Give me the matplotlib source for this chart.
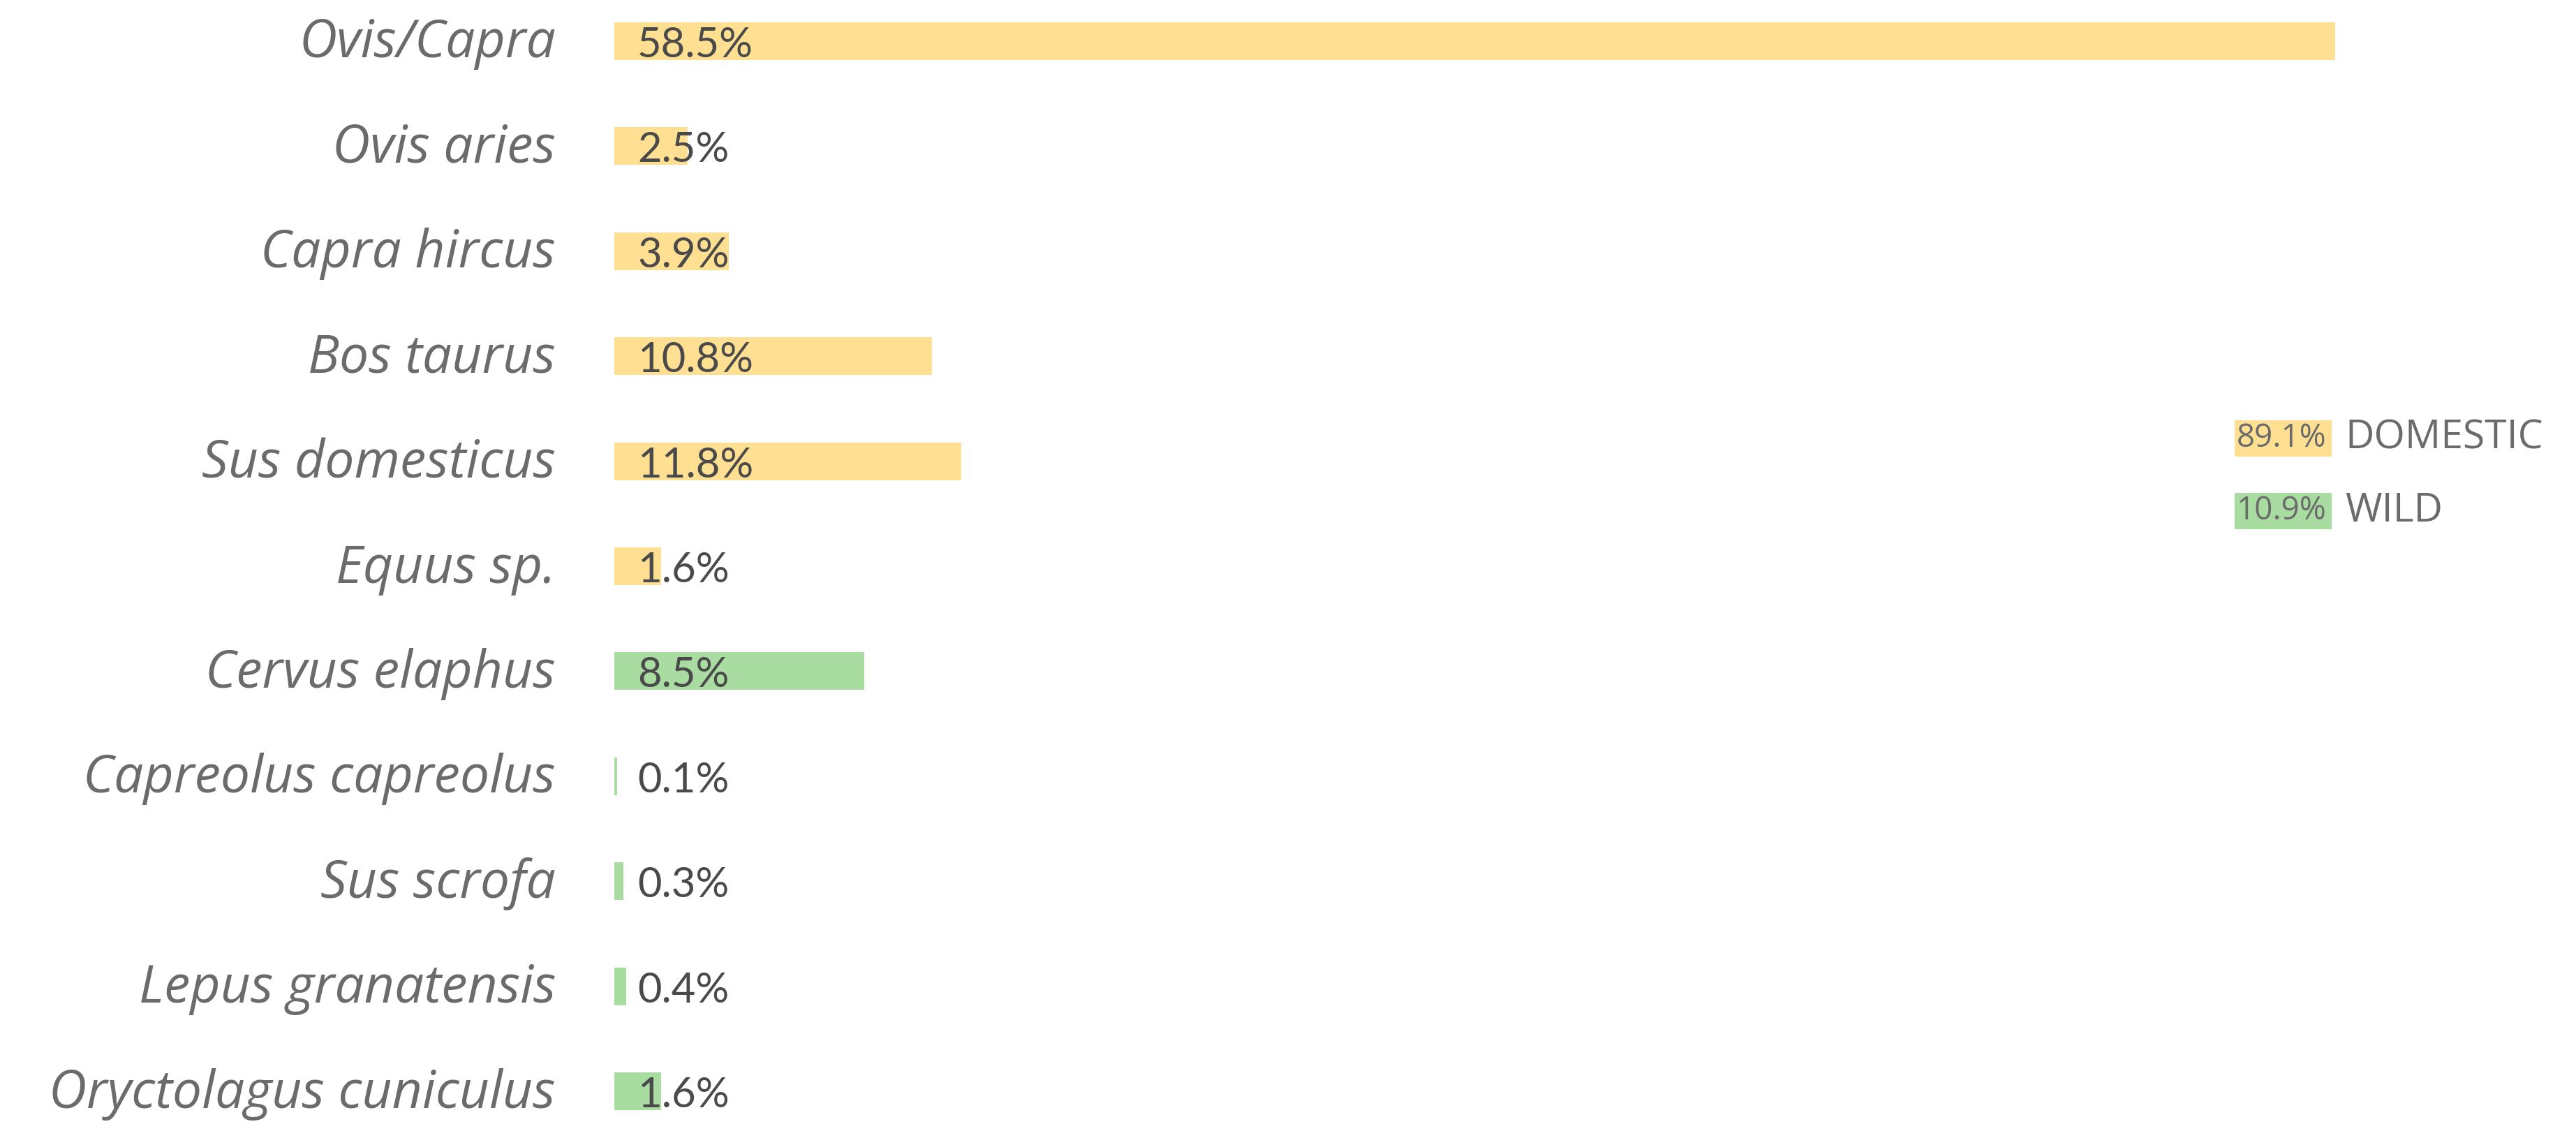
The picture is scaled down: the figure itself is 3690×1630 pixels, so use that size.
import matplotlib
matplotlib.use("Agg")
import matplotlib.pyplot as plt
from matplotlib.patches import Rectangle

species = ["Ovis/Capra", "Ovis aries", "Capra hircus", "Bos taurus", "Sus domesticus",
           "Equus sp.", "Cervus elaphus", "Capreolus capreolus", "Sus scrofa",
           "Lepus granatensis", "Oryctolagus cuniculus"]
values = [58.5, 2.5, 3.9, 10.8, 11.8, 1.6, 8.5, 0.1, 0.3, 0.4, 1.6]
groups = ["DOMESTIC"] * 6 + ["WILD"] * 5
group_names = ["DOMESTIC", "WILD"]
group_totals = [89.1, 10.9]

colors = {"DOMESTIC": "#FFDF91", "WILD": "#A9DCA1"}
W, H, DPI = 3691, 1630, 100
fig = plt.figure(figsize=(W / DPI, H / DPI), dpi=DPI)
fig.patch.set_facecolor("white")

x0_px = 880
ax = fig.add_axes([x0_px / W, 0, 1 - x0_px / W, 1])
px_per_unit = 42.14
ax.set_xlim(0, (W - x0_px) / px_per_unit)
ax.set_ylim(10.445, -0.392)
ax.axis("off")

ypos = list(range(len(species)))
ax.barh(ypos, values, height=0.36, left=0,
        color=[colors[g] for g in groups], edgecolor="none")

name_font = "Open Sans"
val_font = "Lato"
for y, name, v in zip(ypos, species, values):
    ax.annotate(name, xy=(0, y), xycoords="data", xytext=(-84, -4), textcoords="offset pixels",
                ha="right", va="center", fontsize=54, style="italic",
                family=name_font, color="#6b6b6b")
    ax.annotate(f"{v:.1f}%", xy=(0, y), xycoords="data", xytext=(33, -6), textcoords="offset pixels",
                ha="left", va="center", fontsize=43, family=val_font, color="#4a4a4a")

# legend
leg_y = [628, 732]
for yy, g, tot in zip(leg_y, group_names, group_totals):
    fig.patches.append(Rectangle((3201 / W, 1 - (yy + 26) / H), 139 / W, 52 / H,
                                 transform=fig.transFigure, facecolor=colors[g],
                                 edgecolor="none"))
    fig.text(3204 / W, 1 - yy / H, f"{tot:.1f}%", ha="left", va="center",
             fontsize=33, family=name_font, color="#6b6b6b")
    fig.text(3359 / W, 1 - yy / H, g, ha="left", va="center",
             fontsize=41, family=name_font, color="#6b6b6b")

fig.savefig("out.png", dpi=DPI, facecolor="white")
